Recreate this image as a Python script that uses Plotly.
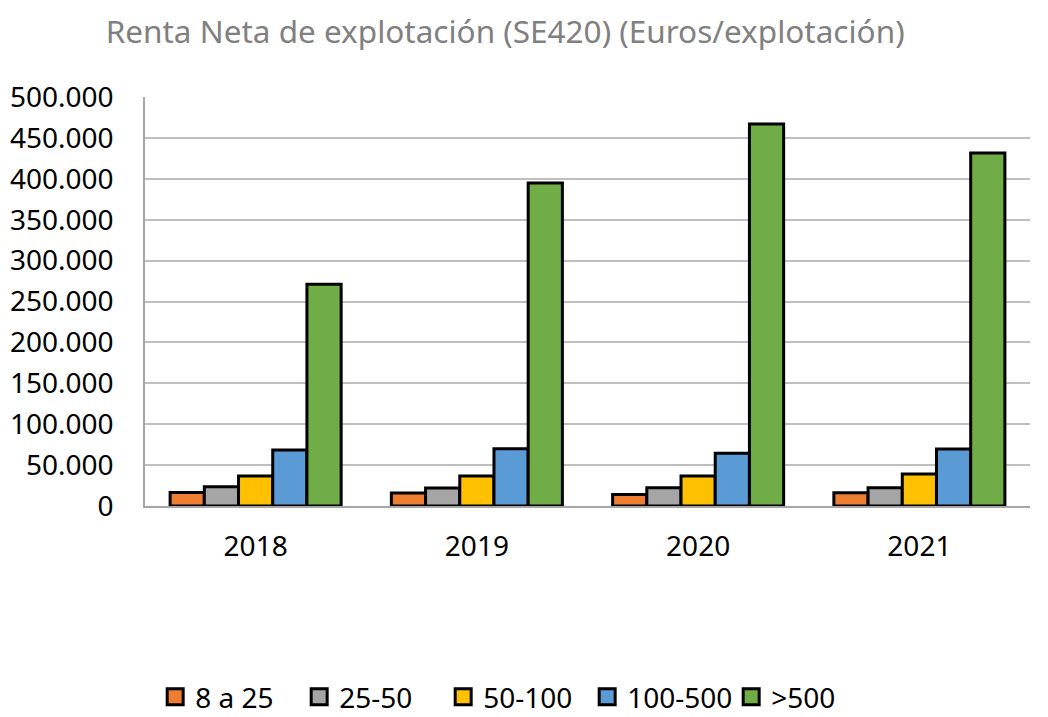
import plotly.graph_objects as go

years = ["2018", "2019", "2020", "2021"]
series_names = ["8 a 25", "25-50", "50-100", "100-500", ">500"]
v_8_25 = [16500, 16000, 14000, 16300]
v_25_50 = [23600, 22000, 22400, 22400]
v_50_100 = [36700, 36700, 36700, 39000]
v_100_500 = [68500, 70000, 64400, 69700]
v_500 = [271000, 395000, 467000, 431500]
colors = ["#ED7D31", "#A5A5A5", "#FFC000", "#5B9BD5", "#70AD47"]

tick_vals = [0, 50000, 100000, 150000, 200000, 250000, 300000, 350000, 400000, 450000, 500000]
tick_text = ["0", "50.000", "100.000", "150.000", "200.000", "250.000", "300.000",
             "350.000", "400.000", "450.000", "500.000"]

font = "Noto Sans, Open Sans, sans-serif"
fig = go.Figure()
for name, vals, col in zip(series_names, [v_8_25, v_25_50, v_50_100, v_100_500, v_500], colors):
    fig.add_trace(go.Bar(x=years, y=vals, name=name, showlegend=False, legendgroup=name,
                         marker=dict(color=col, line=dict(color="black", width=3))))
# legend-only entries (larger square symbols)
for name, col in zip(series_names, colors):
    fig.add_trace(go.Scatter(x=[None], y=[None], mode="markers", name=name, legendgroup=name,
                             marker=dict(symbol="square", size=17, color=col,
                                         line=dict(color="black", width=3))))

fig.update_layout(
    width=1040, height=709,
    paper_bgcolor="white", plot_bgcolor="white",
    margin=dict(l=137, r=18, t=89, b=211, autoexpand=False),
    barmode="group", bargap=0.227, bargroupgap=0,
    title=dict(text="Renta Neta de explotación (SE420) (Euros/explotación)",
               x=0.478, xanchor="center", y=0.966, yanchor="middle",
               font=dict(family=font, size=31.5, color="#808080")),
    font=dict(family=font, size=28, color="black"),
    legend=dict(orientation="h", x=0.0115, xanchor="left", y=-0.467, yanchor="middle",
                font=dict(family=font, size=28), traceorder="normal",
                itemwidth=30, entrywidth=99, entrywidthmode="pixels"),
    xaxis=dict(showline=True, linecolor="#A6A6A6", linewidth=2, ticks="",
               tickfont=dict(size=28), automargin=False, ticklabelstandoff=14),
    yaxis=dict(range=[0, 500000], tickvals=tick_vals, ticktext=tick_text,
               showgrid=True, gridcolor="#BFBFBF", gridwidth=1.5,
               showline=True, linecolor="#A6A6A6", linewidth=1.5,
               ticks="", zeroline=False, tickfont=dict(size=28), automargin=False,
               ticklabelstandoff=24),
)
fig.write_html("out.html")
